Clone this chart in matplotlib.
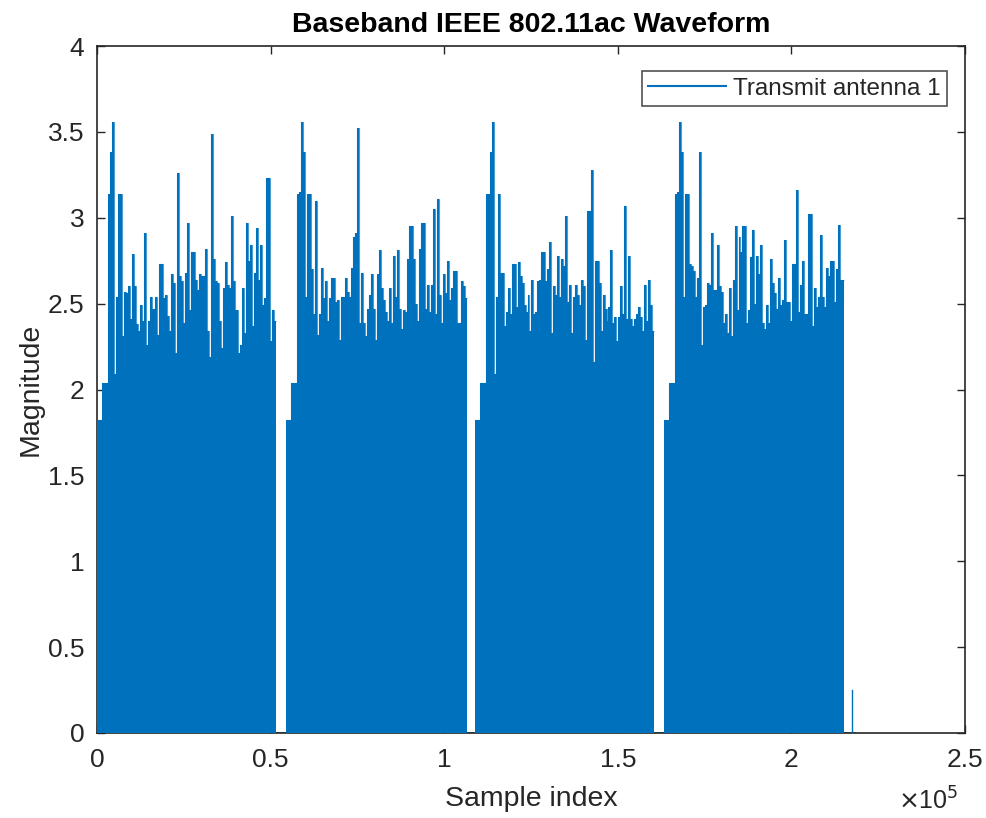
import numpy as np
import matplotlib
matplotlib.use("Agg")
import matplotlib.pyplot as plt
from matplotlib.lines import Line2D
from matplotlib.ticker import FuncFormatter

# ---------------- data ----------------
packet_start = [0, 54400, 108900, 163300]        # sample index where each packet begins
packet_end = [51550, 106450, 160400, 215100]     # sample index where each packet ends
stf_level = 1.82                                  # legacy short training field magnitude
ltf_level = 2.04                                  # legacy long training field magnitude
stf_len = 1350                                    # samples
ltf_len = 1800                                    # samples

# peak magnitude of consecutive equal-width chunks of the packet body
p1_body = [3.14, 3.385, 3.56, 2.09, 2.54, 3.14, 3.14, 2.31, 2.57, 2.56, 2.60, 2.41, 2.79, 2.60,
           2.38, 2.34, 2.49, 2.40, 2.91, 2.26, 2.40, 2.54, 2.47, 2.54, 2.32, 2.73, 2.73, 2.53,
           2.55, 2.43, 2.34, 2.67, 2.62, 2.21, 3.26, 2.66, 2.63, 2.39, 2.68, 2.97, 2.46, 2.80,
           2.80, 2.64, 2.58, 2.67, 2.66, 2.66, 2.82, 2.34, 2.19, 3.49, 2.76, 2.63, 2.62, 2.40,
           2.24, 2.59, 2.74, 2.61, 2.59, 3.01, 2.63, 2.46, 2.21, 2.26, 2.59, 2.33, 2.97, 2.75,
           2.84, 2.37, 2.68, 2.94, 2.64, 2.84, 2.49, 2.53, 3.23, 3.23, 2.28, 2.46, 2.40]
p2_body = [3.14, 3.15, 3.56, 3.385, 2.54, 3.14, 3.14, 2.70, 2.44, 3.10, 2.32, 2.44, 2.71, 2.53,
           2.63, 2.40, 2.53, 2.65, 2.65, 2.51, 2.52, 2.29, 2.54, 2.54, 2.65, 2.57, 2.54, 2.71,
           2.89, 2.91, 3.52, 2.39, 2.68, 2.39, 2.31, 2.47, 2.55, 2.67, 2.47, 2.29, 2.67, 2.81,
           2.59, 2.52, 2.45, 2.40, 2.59, 2.39, 2.78, 2.54, 2.81, 2.47, 2.35, 2.46, 2.45, 2.76,
           2.95, 2.95, 2.76, 2.50, 2.40, 2.82, 2.97, 2.97, 2.47, 2.61, 2.45, 2.61, 3.05, 2.44,
           3.11, 2.55, 2.39, 2.67, 2.56, 2.75, 2.52, 2.59, 2.69, 2.69, 2.39, 2.39, 2.63, 2.60,
           2.53]
p3_body = [3.14, 3.14, 3.385, 3.56, 2.09, 2.54, 3.14, 2.68, 2.68, 2.37, 2.45, 2.59, 2.44, 2.73,
           2.73, 2.48, 2.74, 2.66, 2.62, 2.49, 2.45, 2.55, 2.34, 2.64, 2.44, 2.45, 2.63, 2.64,
           2.80, 2.80, 2.63, 2.70, 2.86, 2.33, 2.60, 2.55, 2.78, 2.54, 2.76, 2.72, 3.01, 2.51,
           2.61, 2.33, 2.54, 2.61, 2.55, 2.49, 2.64, 2.60, 2.29, 3.04, 3.04, 3.28, 2.16, 2.75,
           2.75, 2.62, 2.34, 2.55, 2.47, 2.40, 2.48, 2.81, 2.39, 2.42, 2.28, 2.42, 2.60, 2.44,
           3.07, 2.41, 2.78, 2.41, 2.37, 2.41, 2.44, 2.48, 2.42, 2.34, 2.61, 2.40, 2.64, 2.49,
           2.34]
p4_body = [3.14, 3.15, 3.56, 3.385, 2.54, 3.14, 3.14, 2.73, 2.72, 2.69, 2.54, 2.65, 3.385, 2.26,
           2.48, 2.49, 2.62, 2.61, 2.91, 2.58, 2.58, 2.84, 2.60, 2.57, 2.39, 2.44, 2.33, 2.59,
           2.31, 2.64, 2.95, 2.46, 2.89, 2.80, 2.95, 2.95, 2.39, 2.46, 2.77, 2.93, 2.50, 2.78,
           2.67, 2.84, 2.39, 2.35, 2.49, 2.39, 2.76, 2.62, 2.56, 2.47, 2.65, 2.49, 2.52, 2.87,
           2.51, 2.51, 2.40, 2.73, 2.73, 3.16, 2.45, 2.61, 2.75, 2.44, 2.44, 3.02, 3.02, 2.37,
           2.59, 2.48, 2.54, 2.90, 2.54, 2.48, 2.71, 2.66, 2.75, 2.75, 2.51, 2.70, 2.96, 2.64,
           2.64]
packet_bodies = [p1_body, p2_body, p3_body, p4_body]

tail_spike_index = 217500
tail_spike_height = 0.25
waveform_end = 218200

x_ticks = [0, 0.5e5, 1.0e5, 1.5e5, 2.0e5, 2.5e5]
y_ticks = [0, 0.5, 1, 1.5, 2, 2.5, 3, 3.5, 4]

# ---------------- style ----------------
BLUE = "#0072BD"
AX = "#262626"
plt.rcParams["font.family"] = ["Liberation Sans", "DejaVu Sans"]

fig = plt.figure(figsize=(9.87, 8.18), dpi=100)
ax = fig.add_axes([97 / 987, 1 - 733 / 818, (965 - 97) / 987, (733 - 46) / 818])

# zero line of the waveform
ax.plot([0, waveform_end], [0, 0], color=BLUE, lw=1.2, zorder=2)

for s, e, body in zip(packet_start, packet_end, packet_bodies):
    body_start = s + stf_len + ltf_len
    edges = np.concatenate([[s, s + stf_len], np.linspace(body_start, e, len(body) + 1)])
    values = np.array([stf_level, ltf_level] + list(body))
    ax.stairs(values, edges, baseline=0, fill=True, color=BLUE, lw=0, zorder=3)
    ax.stairs(values, edges, baseline=None, fill=False, color=BLUE, lw=0.8, alpha=0.7, zorder=3)

ax.plot([tail_spike_index, tail_spike_index], [0, tail_spike_height], color=BLUE, lw=1.0, zorder=3)

ax.set_xlim(0, 2.5e5)
ax.set_ylim(0, 4)
ax.set_xticks(x_ticks)
ax.set_yticks(y_ticks)
ax.xaxis.set_major_formatter(FuncFormatter(lambda v, p: f"{v / 1e5:g}"))
ax.yaxis.set_major_formatter(FuncFormatter(lambda v, p: f"{v:g}"))

for sp in ax.spines.values():
    sp.set_color(AX)
    sp.set_linewidth(1.2)
ax.tick_params(direction="in", length=6, width=1.0, colors=AX, labelsize=19,
               top=True, right=True, pad=9)
ax.tick_params(axis="x", pad=11)

ax.set_xlabel("Sample index", fontsize=20.5, color=AX, labelpad=10)
ax.set_ylabel("Magnitude", fontsize=20.5, color=AX, labelpad=3)
ax.set_title("Baseband IEEE 802.11ac Waveform", fontsize=20.5, fontweight="bold",
             color="black", pad=10)
ax.text(0.993, -0.079, r"$\times$10$^5$", transform=ax.transAxes, ha="right", va="top",
        fontsize=18, color=AX)

handle = Line2D([], [], color=BLUE, lw=1.5)
leg = ax.legend([handle], ["Transmit antenna 1"], loc="upper right", fontsize=17.5,
                frameon=True, fancybox=False, edgecolor=AX, handlelength=3.2,
                borderpad=0.25, handletextpad=0.3, bbox_to_anchor=(0.979, 0.963),
                borderaxespad=0)
leg.get_frame().set_linewidth(1.2)
for t in leg.get_texts():
    t.set_color(AX)

fig.savefig("out.png", dpi=100)
